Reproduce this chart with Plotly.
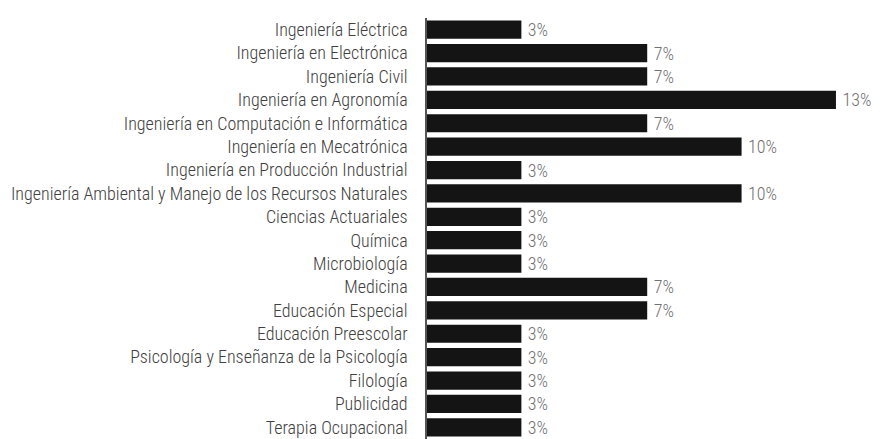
import plotly.graph_objects as go

categories = [
    "Ingeniería Eléctrica",
    "Ingeniería en Electrónica",
    "Ingeniería Civil",
    "Ingeniería en Agronomía",
    "Ingeniería en Computación e Informática",
    "Ingeniería en Mecatrónica",
    "Ingeniería en Producción Industrial",
    "Ingeniería Ambiental y Manejo de los Recursos Naturales",
    "Ciencias Actuariales",
    "Química",
    "Microbiología",
    "Medicina",
    "Educación Especial",
    "Educación Preescolar",
    "Psicología y Enseñanza de la Psicología",
    "Filología",
    "Publicidad",
    "Terapia Ocupacional",
]
values = [3, 7, 7, 13, 7, 10, 3, 10, 3, 3, 3, 7, 7, 3, 3, 3, 3, 3]
labels = [f"\u2009{v}%" for v in values]

FONT = "Liberation Sans Narrow, Roboto Condensed, Arial Narrow, Liberation Sans, sans-serif"

fig = go.Figure(go.Bar(
    x=values,
    y=categories,
    orientation="h",
    marker=dict(color="#141414", line=dict(width=0)),
    text=labels,
    textposition="outside",
    constraintext="none",
    cliponaxis=False,
    textfont=dict(family=FONT, size=18, color="#707070", weight=300),
    hoverinfo="skip",
))

fig.update_layout(
    width=872, height=431,
    margin=dict(l=419, r=0, t=10, b=0),
    paper_bgcolor="white", plot_bgcolor="white",
    bargap=0.22,
    showlegend=False,
    font=dict(family=FONT, size=18, color="#404040"),
)
fig.update_xaxes(range=[0, 14.4], visible=False, showgrid=False, zeroline=False)
fig.update_yaxes(
    autorange="reversed",
    showgrid=False, zeroline=False,
    showline=True, linecolor="#555555", linewidth=1.5,
    ticks="", ticklabelstandoff=14,
    tickfont=dict(family=FONT, size=18, color="#404040", weight=300),
    automargin=False,
)

fig.write_html("out.html")
